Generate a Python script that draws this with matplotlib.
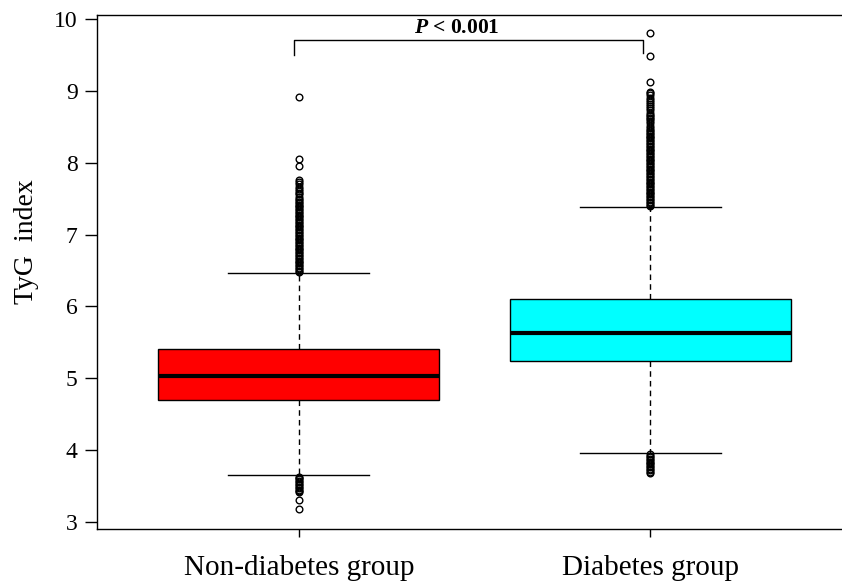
import matplotlib.pyplot as plt

plt.rcParams['font.family'] = ['Liberation Serif', 'DejaVu Serif']
plt.rcParams['mathtext.fontset'] = 'custom'
plt.rcParams['mathtext.bfit'] = 'Liberation Serif:italic:bold'
plt.rcParams['mathtext.rm'] = 'Liberation Serif'

groups = ['Non-diabetes group', 'Diabetes group']
colors = ['#ff0000', '#00ffff']
q1 = [4.70, 5.24]
med = [5.03, 5.63]
q3 = [5.41, 6.11]
whis_lo = [3.65, 3.96]
whis_hi = [6.47, 7.39]

# outliers (dense runs listed point by point)
fliers_non = [6.48, 6.50, 6.52, 6.54, 6.56, 6.58, 6.60, 6.62, 6.64, 6.66, 6.68, 6.70,
              6.72, 6.74, 6.76, 6.78, 6.80, 6.82, 6.84, 6.86, 6.88, 6.90, 6.92, 6.94,
              6.96, 6.98, 7.00, 7.02, 7.04, 7.06, 7.08, 7.10, 7.12, 7.14, 7.16, 7.18,
              7.20, 7.22, 7.24, 7.26, 7.28, 7.30, 7.32, 7.34, 7.36, 7.38, 7.40, 7.42,
              7.44, 7.46, 7.48, 7.50, 7.53, 7.56, 7.58, 7.61, 7.64, 7.67, 7.70, 7.73, 7.76,
              7.96, 8.05, 8.92,
              3.63, 3.61, 3.59, 3.57, 3.55, 3.53, 3.51, 3.49, 3.47, 3.45, 3.43, 3.41,
              3.31, 3.18]
fliers_dia = [7.40, 7.42, 7.44, 7.46, 7.48, 7.50, 7.52, 7.54, 7.56, 7.58, 7.60, 7.62,
              7.64, 7.66, 7.68, 7.70, 7.72, 7.74, 7.76, 7.78, 7.80, 7.82, 7.84, 7.86,
              7.88, 7.90, 7.92, 7.94, 7.96, 7.98, 8.00, 8.02, 8.04, 8.06, 8.08, 8.10,
              8.12, 8.14, 8.16, 8.18, 8.20, 8.22, 8.24, 8.26, 8.28, 8.30, 8.32, 8.34,
              8.36, 8.38, 8.40, 8.42, 8.44, 8.46, 8.49, 8.52, 8.55, 8.58, 8.61, 8.63,
              8.65, 8.67, 8.70, 8.73, 8.76, 8.79, 8.82, 8.85, 8.88, 8.91, 8.94, 8.97, 8.99,
              9.12, 9.49, 9.81,
              3.94, 3.92, 3.90, 3.88, 3.86, 3.84, 3.82, 3.80, 3.78, 3.76, 3.74, 3.72,
              3.70, 3.68]
fliers = [fliers_non, fliers_dia]
p_text = r'$\mathbfit{P}$' + ' < 0.001'

stats = []
for i in range(2):
    stats.append(dict(label=groups[i], med=med[i], q1=q1[i], q3=q3[i],
                      whislo=whis_lo[i], whishi=whis_hi[i], fliers=fliers[i]))

fig = plt.figure(figsize=(8.42, 5.81), dpi=100)
ax = fig.add_axes([97/842, 1-529/581, 745/842, 514/581])

bp = ax.bxp(stats, positions=[1, 2], widths=0.8, patch_artist=True,
            boxprops=dict(edgecolor='black', linewidth=1.0),
            medianprops=dict(color='black', linewidth=3),
            whiskerprops=dict(color='black', linewidth=1.0, linestyle=(0, (4, 3))),
            capprops=dict(color='black', linewidth=1.0),
            capwidths=0.4,
            flierprops=dict(marker='o', markersize=4.8, markerfacecolor='none',
                            markeredgecolor='black', markeredgewidth=1.0))
for patch, c in zip(bp['boxes'], colors):
    patch.set_facecolor(c)

# significance bracket
ax.plot([0.985, 0.985, 1.98, 1.98], [9.50, 9.71, 9.71, 9.53], color='black', lw=1.0)
ax.text(1.45, 9.74, p_text, ha='center', va='bottom', fontsize=15.5, fontweight='bold')

ax.set_xlim(0.426, 2.545)
ax.set_ylim(2.90, 10.06)
ax.set_yticks([3, 4, 5, 6, 7, 8, 9, 10])
ax.set_xticks([1, 2])
ax.set_xticklabels(groups, fontsize=21)
ax.tick_params(axis='y', labelsize=17, length=9, width=1.0, pad=5)
ax.tick_params(axis='x', length=6, width=1.0, pad=13)
ax.set_ylabel('TyG  index', fontsize=20)
ax.yaxis.set_label_coords(-0.078, 0.56)
ax.spines['right'].set_visible(False)
for s in ['left', 'top', 'bottom']:
    ax.spines[s].set_linewidth(1.0)

plt.savefig('out.png', dpi=100)
